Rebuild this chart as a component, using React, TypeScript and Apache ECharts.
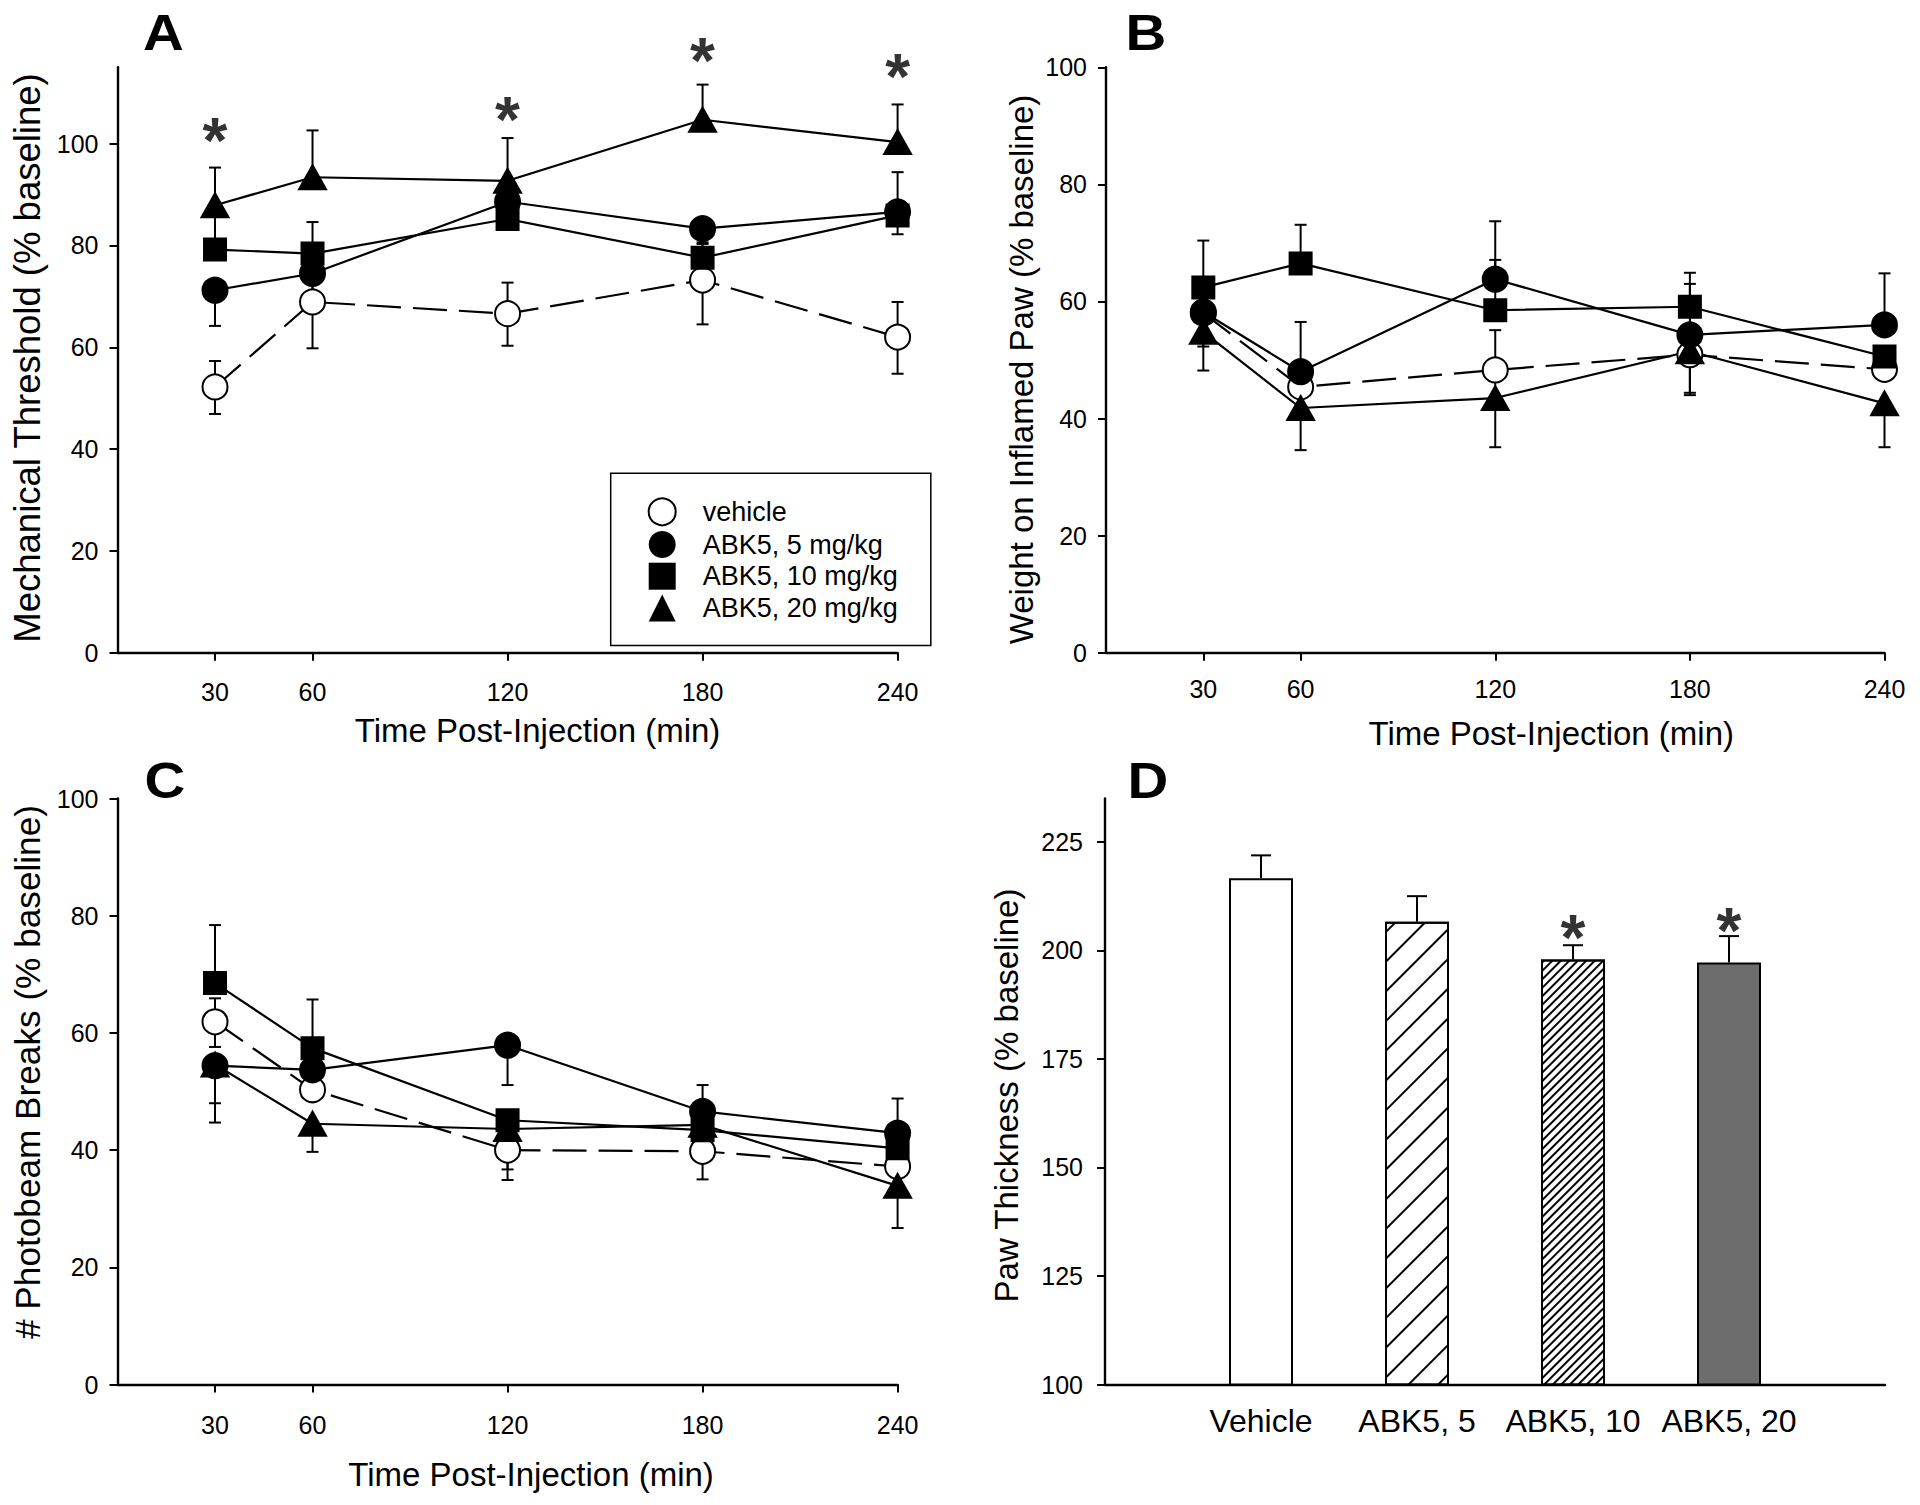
import React, { useEffect, useRef } from "react";
import * as echarts from "echarts";

const FONT = '"Liberation Sans", Arial, Helvetica, sans-serif';

// ---------- shared ----------
const times = [30, 60, 120, 180, 240];
const timeTicks = [30, 60, 120, 180, 240];
const groupNames = ["vehicle", "ABK5, 5 mg/kg", "ABK5, 10 mg/kg", "ABK5, 20 mg/kg"];

// ---------- Panel A : Mechanical threshold ----------
const aVehicle = [52.2, 68.9, 66.6, 73.2, 62.0];
const aVehicleUp = [5.1, 9.1, 6.1, 8.7, 6.9];
const aVehicleDown = [5.3, 9.1, 6.3, 8.7, 7.2];
const aDose5 = [71.2, 74.5, 88.6, 83.3, 86.6];
const aDose5Up = [0, 0, 0, 0, 0];
const aDose5Down = [7.0, 5.6, 5.0, 3.0, 4.4];
const aDose10 = [79.2, 78.4, 85.2, 77.6, 85.9];
const aDose10Up = [7.0, 6.2, 4.0, 3.0, 8.5];
const aDose10Down = [0, 0, 0, 0, 0];
const aDose20 = [87.9, 93.4, 92.7, 104.7, 100.3];
const aDose20Up = [7.4, 9.2, 8.4, 6.9, 7.4];
const aDose20Down = [0, 0, 0, 0, 0];
const aStarTimes = [30, 120, 180, 240];
const aStarValues = [102.8, 107.0, 118.5, 115.4];
const aYTicks = [0, 20, 40, 60, 80, 100];

// ---------- Panel B : Weight on inflamed paw ----------
const bVehicle = [58.0, 45.4, 48.3, 50.9, 48.4];
const bVehicleUp = [0, 0, 6.8, 0, 0];
const bVehicleDown = [5.7, 0, 6.8, 6.9, 0];
const bDose5 = [58.2, 48.0, 63.8, 54.3, 56.0];
const bDose5Up = [0, 8.5, 9.9, 8.7, 8.8];
const bDose5Down = [0, 0, 0, 0, 0];
const bDose10 = [62.4, 66.5, 58.5, 59.1, 50.6];
const bDose10Up = [8.0, 6.6, 8.6, 5.8, 0];
const bDose10Down = [0, 0, 0, 0, 0];
const bDose20 = [54.8, 41.8, 43.5, 51.5, 42.6];
const bDose20Up = [0, 0, 0, 0, 0];
const bDose20Down = [6.6, 7.2, 8.4, 7.1, 7.5];
const bYTicks = [0, 20, 40, 60, 80, 100];

// ---------- Panel C : Photobeam breaks ----------
const cVehicle = [61.9, 50.3, 40.0, 39.8, 37.2];
const cVehicleUp = [4.0, 0, 0, 0, 0];
const cVehicleDown = [4.3, 0, 5.1, 4.8, 0];
const cDose5 = [54.4, 53.7, 57.9, 46.6, 42.9];
const cDose5Up = [0, 0, 0, 4.5, 5.9];
const cDose5Down = [6.4, 0, 6.8, 0, 0];
const cDose10 = [68.5, 57.4, 45.1, 43.4, 40.3];
const cDose10Up = [9.9, 8.3, 0, 0, 0];
const cDose10Down = [0, 0, 0, 4.5, 0];
const cDose20 = [54.6, 44.5, 43.6, 44.3, 33.9];
const cDose20Up = [0, 0, 0, 0, 0];
const cDose20Down = [9.9, 4.8, 6.9, 0, 7.2];
const cYTicks = [0, 20, 40, 60, 80, 100];

// ---------- Panel D : Paw thickness ----------
const dCategories = ["Vehicle", "ABK5, 5", "ABK5, 10", "ABK5, 20"];
const dValues = [216.6, 206.6, 197.9, 197.2];
const dErrors = [5.3, 5.9, 3.3, 6.1];
const dStarCategories = ["ABK5, 10", "ABK5, 20"];
const dStarValues = [205.6, 207.3];
const dYTicks = [100, 125, 150, 175, 200, 225];

// ---------- styles ----------
const symbols = ["circle", "circle", "rect", "triangle"];
const symbolSizes: any[] = [25, 25, 22, [27, 24]];
const fills = ["#fff", "#000", "#000", "#000"];
const dashed = [true, false, false, false];

const black = "#000";

function errorRender(capHalf: number) {
  return (params: any, api: any) => {
    const x = api.value(0);
    const y = api.value(1);
    const up = api.value(2);
    const dn = api.value(3);
    const style = { stroke: black, lineWidth: 2, fill: "none" };
    const c = api.coord([x, y]);
    const children: any[] = [];
    if (up > 0) {
      const t = api.coord([x, y + up]);
      children.push({ type: "line", shape: { x1: c[0], y1: c[1], x2: t[0], y2: t[1] }, style });
      children.push({ type: "line", shape: { x1: t[0] - capHalf, y1: t[1], x2: t[0] + capHalf, y2: t[1] }, style });
    }
    if (dn > 0) {
      const b = api.coord([x, y - dn]);
      children.push({ type: "line", shape: { x1: c[0], y1: c[1], x2: b[0], y2: b[1] }, style });
      children.push({ type: "line", shape: { x1: b[0] - capHalf, y1: b[1], x2: b[0] + capHalf, y2: b[1] }, style });
    }
    return { type: "group", children };
  };
}

type Group = { values: number[]; up: number[]; down: number[] };

function linePanel(idx: number, groups: Group[]) {
  const out: any[] = [];
  groups.forEach((g, k) => {
    out.push({
      type: "custom",
      name: groupNames[k] + " error",
      xAxisIndex: idx,
      yAxisIndex: idx,
      z: 1,
      silent: true,
      renderItem: errorRender(6),
      encode: { x: 0, y: 1 },
      data: times.map((t, i) => [t, g.values[i], g.up[i], g.down[i]]),
    });
  });
  groups.forEach((g, k) => {
    out.push({
      type: "line",
      name: groupNames[k],
      xAxisIndex: idx,
      yAxisIndex: idx,
      z: 3,
      silent: true,
      symbol: symbols[k],
      symbolSize: symbolSizes[k],
      showSymbol: true,
      itemStyle: { color: fills[k], borderColor: black, borderWidth: 2 },
      lineStyle: { color: black, width: 2.2, type: dashed[k] ? [34, 12] : "solid" },
      emphasis: { disabled: true },
      data: times.map((t, i) => [t, g.values[i]]),
    });
  });
  return out;
}

function starSeries(xIdx: number, data: any[]) {
  return {
    type: "scatter",
    xAxisIndex: xIdx,
    yAxisIndex: xIdx,
    silent: true,
    clip: false,
    z: 6,
    symbol: "circle",
    symbolSize: 1,
    itemStyle: { color: "rgba(0,0,0,0)" },
    label: {
      show: true,
      formatter: "*",
      position: "inside",
      offset: [0, 12],
      fontSize: 64,
      fontWeight: "bold",
      color: black,
      fontFamily: FONT,
    },
    data,
  };
}

function valueXAxis(gridIndex: number, labelMargin: number, nameGap: number, namePadLeft: number) {
  return {
    type: "value",
    gridIndex,
    min: 0,
    max: 240,
    name: "Time Post-Injection (min)",
    nameLocation: "middle",
    nameGap,
    nameTextStyle: { fontSize: 33, color: black, fontFamily: FONT, padding: [0, 0, 0, namePadLeft] },
    axisLine: { show: true, onZero: false, lineStyle: { color: black, width: 2.4 } },
    axisTick: { show: true, length: 8, lineStyle: { color: black, width: 2 }, customValues: timeTicks },
    axisLabel: { color: black, fontSize: 25, fontFamily: FONT, margin: labelMargin, customValues: timeTicks },
    splitLine: { show: false },
  };
}

function valueYAxis(
  gridIndex: number,
  min: number,
  max: number,
  ticks: number[],
  name: string,
  nameSize: number,
  nameGap: number,
  namePad: number[],
  labelMargin: number
) {
  return {
    type: "value",
    gridIndex,
    min,
    max,
    name,
    nameLocation: "middle",
    nameGap,
    nameTextStyle: { fontSize: nameSize, color: black, fontFamily: FONT, padding: namePad },
    axisLine: { show: true, onZero: false, lineStyle: { color: black, width: 2.4 } },
    axisTick: { show: true, length: 8, lineStyle: { color: black, width: 2 }, customValues: ticks },
    axisLabel: { color: black, fontSize: 25, fontFamily: FONT, margin: labelMargin, customValues: ticks },
    splitLine: { show: false },
  };
}

const dAxisCategories = ["", ...dCategories, ""];
const dBarStyles: any[] = [
  { color: "#fff", borderColor: black, borderWidth: 2 },
  {
    color: "#fff",
    borderColor: black,
    borderWidth: 2,
    decal: { symbol: "rect", symbolSize: 1, color: black, dashArrayX: [1, 0], dashArrayY: [2, 18.5], rotation: -Math.PI / 4 },
  },
  {
    color: "#fff",
    borderColor: black,
    borderWidth: 2,
    decal: { symbol: "rect", symbolSize: 1, color: black, dashArrayX: [1, 0], dashArrayY: [1.6, 3.6], rotation: -Math.PI / 4 },
  },
  { color: "#6d6d6d", borderColor: black, borderWidth: 2 },
];

function panelLetter(text: string, x: number, y: number) {
  return {
    type: "text",
    x,
    y,
    scaleX: 1.13,
    style: {
      text,
      fontSize: 50,
      fontWeight: "bold",
      fontFamily: FONT,
      fill: black,
      align: "center",
      verticalAlign: "middle",
    },
  };
}

export default function App() {
  const ref = useRef<HTMLDivElement>(null);
  useEffect(() => {
    if (!ref.current) return;
    const chart = echarts.init(ref.current, null, { renderer: "svg" });

    const series: any[] = [];
    series.push(
      ...linePanel(0, [
        { values: aVehicle, up: aVehicleUp, down: aVehicleDown },
        { values: aDose5, up: aDose5Up, down: aDose5Down },
        { values: aDose10, up: aDose10Up, down: aDose10Down },
        { values: aDose20, up: aDose20Up, down: aDose20Down },
      ])
    );
    series.push(starSeries(0, aStarTimes.map((t, i) => [t, aStarValues[i]])));
    series.push(
      ...linePanel(1, [
        { values: bVehicle, up: bVehicleUp, down: bVehicleDown },
        { values: bDose5, up: bDose5Up, down: bDose5Down },
        { values: bDose10, up: bDose10Up, down: bDose10Down },
        { values: bDose20, up: bDose20Up, down: bDose20Down },
      ])
    );
    series.push(
      ...linePanel(2, [
        { values: cVehicle, up: cVehicleUp, down: cVehicleDown },
        { values: cDose5, up: cDose5Up, down: cDose5Down },
        { values: cDose10, up: cDose10Up, down: cDose10Down },
        { values: cDose20, up: cDose20Up, down: cDose20Down },
      ])
    );
    // Panel D bars
    series.push({
      type: "bar",
      name: "Paw thickness",
      xAxisIndex: 3,
      yAxisIndex: 3,
      barWidth: 64,
      silent: true,
      z: 2,
      data: dAxisCategories.map((c) => {
        const i = dCategories.indexOf(c);
        if (i < 0) return "-";
        return { value: dValues[i], itemStyle: dBarStyles[i] };
      }),
    });
    series.push({
      type: "custom",
      name: "Paw thickness error",
      xAxisIndex: 3,
      yAxisIndex: 3,
      z: 3,
      silent: true,
      renderItem: errorRender(10),
      encode: { x: 0, y: 1 },
      data: dCategories.map((c, i) => [dAxisCategories.indexOf(c), dValues[i], dErrors[i], 0]),
    });
    series.push(starSeries(3, dStarCategories.map((c, i) => [c, dStarValues[i]])));

    const option: any = {
      animation: false,
      backgroundColor: "#fff",
      textStyle: { fontFamily: FONT },
      grid: [
        { left: 117.5, top: 67.3, width: 780.1, height: 585.4, outerBoundsMode: "none" },
        { left: 1106, top: 67.3, width: 778.5, height: 585.4, outerBoundsMode: "none" },
        { left: 117.5, top: 798.5, width: 780.1, height: 586, outerBoundsMode: "none" },
        { left: 1105, top: 798.5, width: 780, height: 586, outerBoundsMode: "none" },
      ],
      xAxis: [
        valueXAxis(0, 27, 61.5, 60),
        valueXAxis(1, 24, 64.5, 112),
        valueXAxis(2, 28, 73.5, 47),
        {
          type: "category",
          gridIndex: 3,
          data: dAxisCategories,
          boundaryGap: false,
          axisLine: { show: true, onZero: false, lineStyle: { color: black, width: 2.4 } },
          axisTick: { show: false },
          axisLabel: { color: black, fontSize: 32, fontFamily: FONT, margin: 20, interval: 0 },
          splitLine: { show: false },
        },
      ],
      yAxis: [
        valueYAxis(0, 0, 115, aYTicks, "Mechanical Threshold (% baseline)", 36.5, 72, [0, 0, 0, 4], 19),
        valueYAxis(1, 0, 100, bYTicks, "Weight on Inflamed Paw (% baseline)", 33, 68.5, [0, 19, 0, 0], 19),
        valueYAxis(2, 0, 100, cYTicks, "# Photobeam Breaks (% baseline)", 35.2, 72.5, [0, 0, 0, 39], 19),
        valueYAxis(3, 100, 235, dYTicks, "Paw Thickness (% baseline)", 33, 82.5, [0, 8, 0, 0], 22),
      ],
      legend: {
        show: true,
        orient: "vertical",
        left: 610.7,
        top: 473.3,
        itemWidth: 27,
        itemHeight: 27,
        itemGap: 4.7,
        padding: [24, 33, 24, 37],
        borderColor: black,
        borderWidth: 1.5,
        selectedMode: false,
        textStyle: { fontSize: 27, color: black, fontFamily: FONT, padding: [0, 0, 0, 22] },
        data: [
          { name: groupNames[0], icon: "circle", itemStyle: { color: "#fff", borderColor: black, borderWidth: 2 } },
          { name: groupNames[1], icon: "circle", itemStyle: { color: black, borderColor: black, borderWidth: 0 } },
          { name: groupNames[2], icon: "rect", itemStyle: { color: black, borderColor: black, borderWidth: 0 } },
          { name: groupNames[3], icon: "triangle", itemStyle: { color: black, borderColor: black, borderWidth: 0 } },
        ],
      },
      graphic: [
        panelLetter("A", 163.5, 33),
        panelLetter("B", 1146, 33),
        panelLetter("C", 165, 781),
        panelLetter("D", 1148, 781),
      ],
      series,
    };
    chart.setOption(option);
    return () => chart.dispose();
  }, []);

  return (
    <div
      ref={ref}
      style={{ position: "absolute", left: 0, top: 0, width: "1920px", height: "1505px", background: "#fff" }}
    />
  );
}
